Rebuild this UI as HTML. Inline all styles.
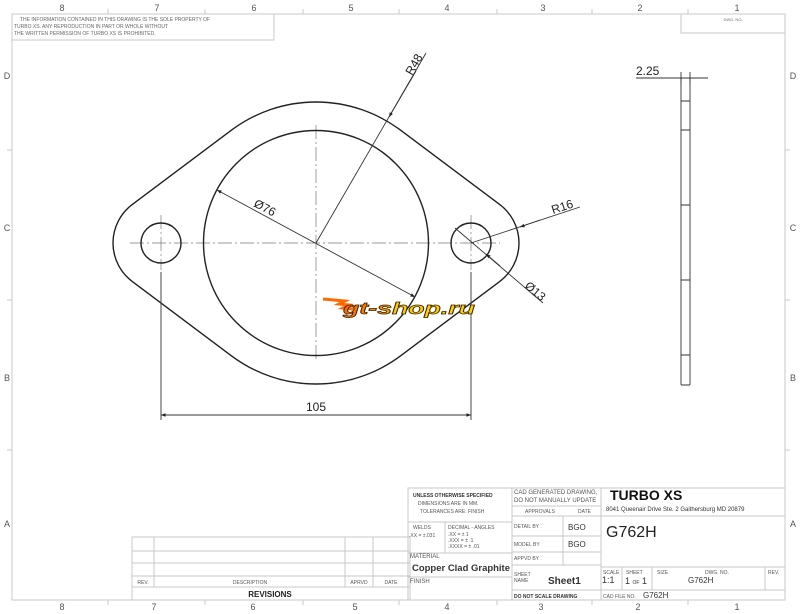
<!DOCTYPE html>
<html><head><meta charset="utf-8"><style>
html,body{margin:0;padding:0;background:#fff;}
svg{display:block;font-family:"Liberation Sans",sans-serif;}
</style></head><body>
<svg width="800" height="614" viewBox="0 0 800 614" xmlns="http://www.w3.org/2000/svg">
<defs>
<marker id="ar" viewBox="0 0 10 10" refX="10" refY="5" markerWidth="8" markerHeight="5" orient="auto-start-reverse"><path d="M0,1 L10,5 L0,9 z" fill="#222"/></marker>
<linearGradient id="lg" x1="0" x2="1"><stop offset="0" stop-color="#ff6a00"/><stop offset="0.3" stop-color="#ff8c00"/><stop offset="0.4" stop-color="#ffd000"/><stop offset="1" stop-color="#ffd400"/></linearGradient>
</defs>
<g stroke="#c8c8c8" fill="none" stroke-width="1">
<rect x="12" y="14" width="773" height="586"/>
<path d="M108,14v-5M205,14v-5M303,14v-5M399,14v-5M497,14v-5M592,14v-5M688,14v-5"/>
<path d="M108,600v5M205,600v5M303,600v5M399,600v5M497,600v5M592,600v5M688,600v5"/>
<path d="M785,150h5M785,300h5M785,450h5M12,150h-5M12,300h-5M12,450h-5"/>
<rect x="12" y="14" width="262" height="26"/>
<rect x="681" y="14" width="104" height="19"/>
</g>
<g font-size="9" fill="#555" text-anchor="middle">
<text x="62" y="11">8</text><text x="157" y="11">7</text><text x="254" y="11">6</text><text x="351" y="11">5</text><text x="447" y="11">4</text><text x="543" y="11">3</text><text x="640" y="11">2</text><text x="737" y="11">1</text>
<text x="62" y="610">8</text><text x="154" y="610">7</text><text x="253" y="610">6</text><text x="355" y="610">5</text><text x="447" y="610">4</text><text x="541" y="610">3</text><text x="638" y="610">2</text><text x="737" y="610">1</text>
<text x="7" y="79">D</text><text x="7" y="231">C</text><text x="7" y="381">B</text><text x="7" y="527">A</text>
<text x="793" y="79">D</text><text x="793" y="231">C</text><text x="793" y="381">B</text><text x="793" y="527">A</text>
</g>
<g font-size="5" fill="#666">
<text x="20" y="21">THE INFORMATION CONTAINED IN THIS DRAWING IS THE SOLE PROPERTY OF</text>
<text x="14" y="28">TURBO XS.  ANY REPRODUCTION IN PART OR WHOLE WITHOUT</text>
<text x="14" y="35">THE WRITTEN PERMISSION OF TURBO XS IS PROHIBITED.</text>
<text x="733" y="21" text-anchor="middle" font-size="4">DWG. NO.</text>
</g>
<g stroke="#777" stroke-width="0.7" fill="none" stroke-dasharray="14,3,2,3">
<path d="M130,243H500"/><path d="M316,125V362"/>
<path d="M161,215V270"/><path d="M471,215V270"/>
</g>
<g stroke="#222" stroke-width="1.4" fill="none">
<path d="M499.8,204.6 A48,48 0 0 1 499.8,281.4 L400.6,355.8 A141,141 0 0 1 231.4,355.8 L132.2,281.4 A48,48 0 0 1 132.2,204.6 L231.4,130.2 A141,141 0 0 1 400.6,130.2 Z"/>
<circle cx="316" cy="243" r="112.5"/>
<circle cx="161" cy="243" r="20"/>
<circle cx="471" cy="243" r="20"/>
</g>
<g stroke="#333" stroke-width="0.9" fill="none">
<path d="M161,272V420M471,272V420"/>
<path d="M161,415H471" marker-start="url(#ar)" marker-end="url(#ar)"/>
<path d="M316,243L426,53"/>
<path d="M416,71L389,117" marker-end="url(#ar)"/>
<path d="M217,190L415,297" marker-start="url(#ar)" marker-end="url(#ar)"/>
<path d="M471,243L580,207"/>
<path d="M540,220L520,227" marker-end="url(#ar)"/>
<path d="M455,228L543,303"/>
<path d="M500,266L486,254" marker-end="url(#ar)"/>
</g>
<g font-size="12" fill="#222">
<text x="316" y="411" text-anchor="middle">105</text>
<text transform="translate(412,76) rotate(-60)">R48</text>
<text transform="translate(253,206) rotate(28)">Ø76</text>
<text transform="translate(553,214) rotate(-18)">R16</text>
<text transform="translate(524,287) rotate(40)">Ø13</text>
<text x="636" y="75">2.25</text>
</g>
<g stroke="#333" stroke-width="0.9" fill="none">
<path d="M636,78H708"/>
<path d="M681,72V84M690,72V84"/>
<rect x="681" y="78" width="9" height="307" rx="1"/>
<path d="M681,101H690M681,130H690M681,205H690M681,280H690M681,355H690"/>
</g>
<g transform="translate(323,296)">
<path d="M0,3 L22,5 L16,8 L26,9 L20,12 L30,13" stroke="#ff6a00" stroke-width="3" fill="none"/>
<text x="20" y="18" font-size="17" font-weight="bold" font-style="italic" fill="url(#lg)" stroke="#3a2000" stroke-width="0.7" textLength="132" lengthAdjust="spacingAndGlyphs">gt-shop.ru</text>
</g>
<g stroke="#c8c8c8" stroke-width="1" fill="none">
<rect x="132" y="537" width="278" height="63"/>
<path d="M132,551H410M132,563H410M132,576H410M132,587H410"/>
<path d="M154,537V587M345,537V587M373,537V587"/>
</g>
<g font-size="5" fill="#555" text-anchor="middle">
<text x="143" y="584">REV.</text><text x="250" y="584">DESCRIPTION</text><text x="359" y="584">APRVD</text><text x="391" y="584">DATE</text>
</g>
<text x="270" y="597" font-size="8" font-weight="bold" fill="#222" text-anchor="middle">REVISIONS</text>
<g stroke="#c8c8c8" stroke-width="1" fill="none">
<rect x="408" y="488" width="377" height="112"/>
<path d="M512,488V600M601,488V600"/>
<path d="M408,522H512M445,522V553M408,553H512M408,577H512"/>
<path d="M512,506H601M512,516H601M512,536H601M512,552H601M512,565H601M512,590H785M563,516V565"/>
<path d="M601,516H785M601,567H785M622,567V590M652,567V590M765,567V590"/>
</g>
<g font-size="5" fill="#555">
<text x="413" y="497" font-weight="bold" fill="#333">UNLESS OTHERWISE SPECIFIED</text>
<text x="418" y="505">DIMENSIONS ARE IN MM.</text>
<text x="420" y="513">TOLERANCES ARE: FINISH</text>
<text x="413" y="529">WELDS</text><text x="409" y="537">.XX = ±.031</text>
<text x="448" y="529">DECIMAL - ANGLES</text>
<text x="448" y="536">.XX    = ± 1</text><text x="448" y="542">.XXX   = ± .1</text><text x="448" y="548">.XXXX = ± .01</text>
<text x="410" y="558" font-size="6">MATERIAL</text>
<text x="410" y="583" font-size="6">FINISH</text>
<text x="514" y="494" font-size="6">CAD GENERATED DRAWING,</text>
<text x="514" y="502" font-size="6">DO NOT MANUALLY UPDATE</text>
<text x="525" y="513">APPROVALS</text><text x="578" y="513">DATE</text>
<text x="514" y="528">DETAIL BY</text><text x="514" y="546">MODEL BY</text>
<text x="514" y="560">APPVD BY</text>
<text x="514" y="576">SHEET</text><text x="514" y="582">NAME</text>
<text x="514" y="598" font-weight="bold" fill="#333">DO NOT SCALE DRAWING</text>
<text x="603" y="574">SCALE</text><text x="626" y="574">SHEET</text><text x="657" y="574">SIZE</text><text x="705" y="574">DWG. NO.</text><text x="768" y="574">REV.</text>
<text x="603" y="598">CAD FILE NO.</text>
</g>
<g fill="#333">
<text x="412" y="571" font-size="9.5" font-weight="bold" textLength="98" lengthAdjust="spacingAndGlyphs">Copper Clad Graphite</text>
<text x="568" y="530" font-size="8">BGO</text><text x="568" y="547" font-size="8">BGO</text>
<text x="548" y="584" font-size="10" font-weight="bold">Sheet1</text>
<text x="610" y="500" font-size="14" font-weight="bold" fill="#111">TURBO XS</text>
<text x="606" y="511" font-size="6">8041 Queenair Drive Ste. 2 Gaithersburg MD 20879</text>
<text x="606" y="537" font-size="16" fill="#222">G762H</text>
<text x="602" y="583" font-size="9">1:1</text>
<text x="625" y="584" font-size="9">1 <tspan font-size="5">OF</tspan> 1</text>
<text x="688" y="583" font-size="8">G762H</text>
<text x="643" y="598" font-size="8">G762H</text>
</g>
</svg>
</body></html>
